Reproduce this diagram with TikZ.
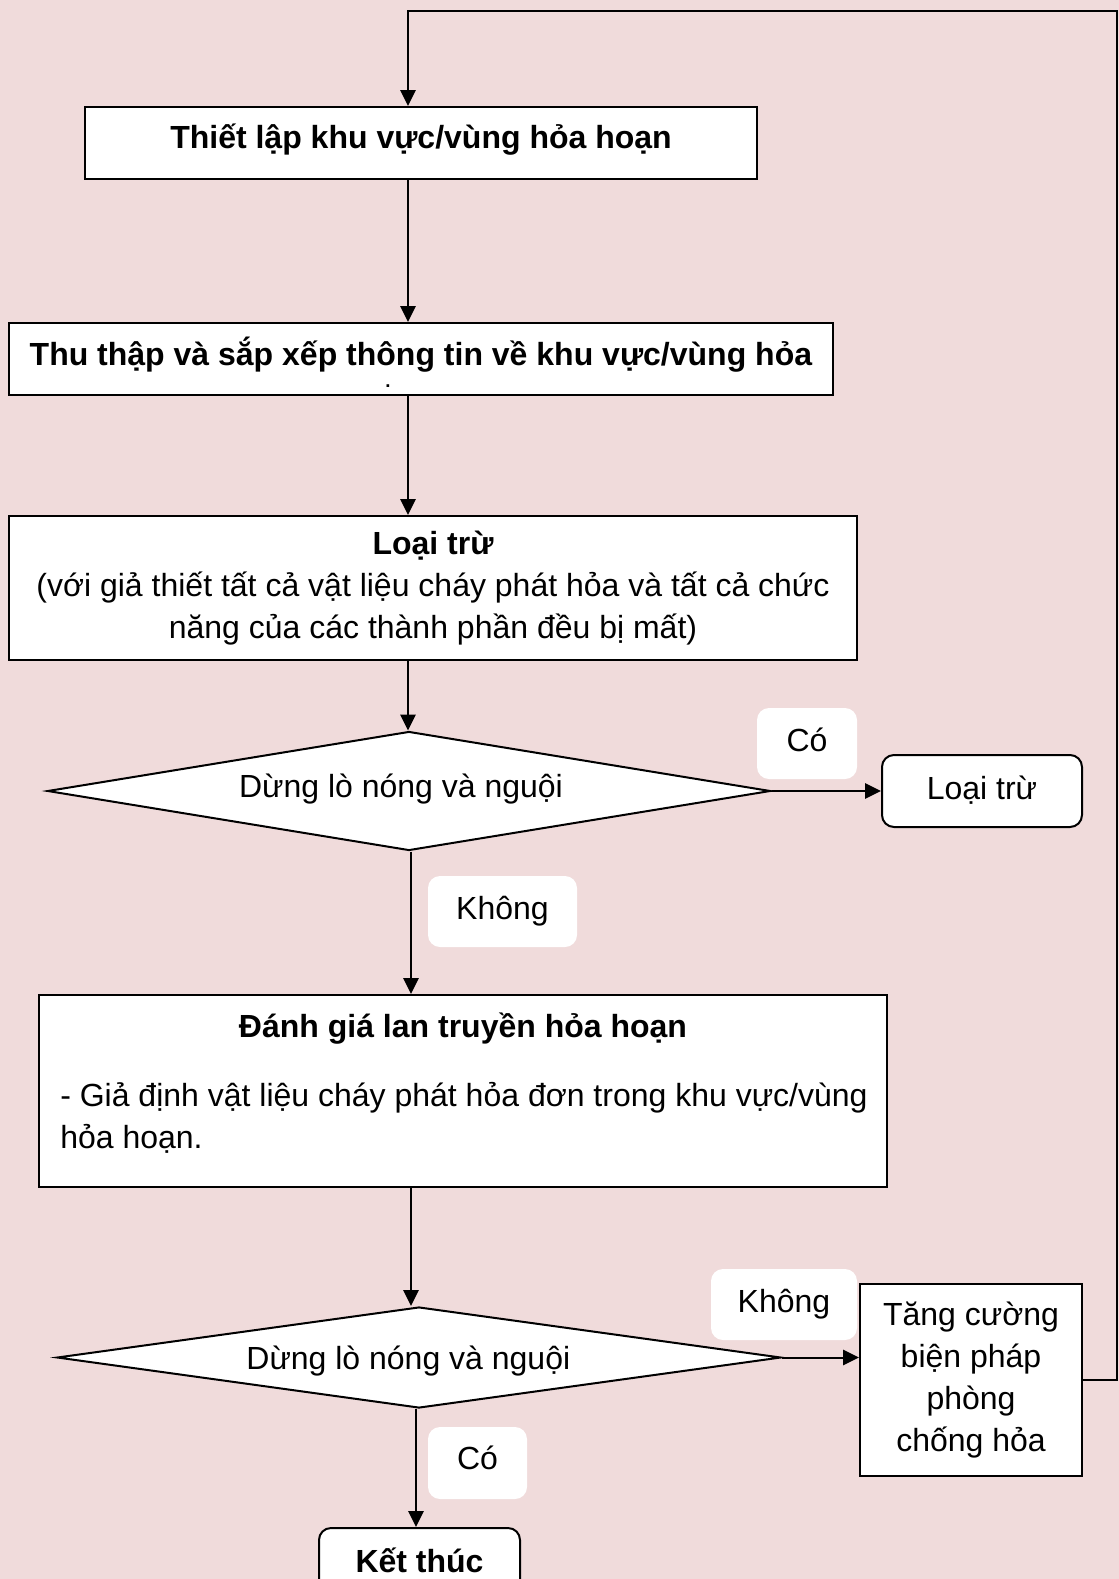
\documentclass[tikz,border=0pt]{standalone}
\usepackage{fontspec}
\setmainfont{Liberation Sans}
\usetikzlibrary{shapes.geometric,arrows.meta}
\definecolor{bgpink}{RGB}{240,219,219}
% one drawing unit = 0.75pt
\def\pxu{0.75pt}
\begin{document}
\begin{tikzpicture}[x=0.75pt,y=-0.75pt,
  every node/.style={font=\fontsize{24}{31.5}\selectfont, inner sep=0pt},
  one/.style={text height=19pt, text depth=6.5pt},
  box/.style={draw=black, line width=1.5pt, fill=white, rectangle, align=center},
  rbox/.style={box, rounded corners=9pt},
  dec/.style={draw=black, line width=1.5pt, fill=white, diamond, aspect=6, one},
  tag/.style={fill=white, rounded corners=9pt, minimum height=71*\pxu, one},
  arr/.style={line width=1.5pt, -{Triangle[length=12pt,width=11.5pt]}},
]
\fill[bgpink] (0,0) rectangle (1119,1579);
\useasboundingbox (0,0) rectangle (1119,1579);
\clip (0,0) rectangle (1119,1579);

% vertical guides for the main flow
\coordinate (spine) at (408,0);
\coordinate (spine2) at (411,0);
\coordinate (spine3) at (416,0);
\coordinate (loopR) at (1117,11);

% process boxes
\node[box, one, minimum width=672*\pxu, minimum height=72*\pxu] (b1) at (421,143)
  {\raisebox{2pt}{\textbf{Thiết lập khu vực/vùng hỏa hoạn}}};
\node[box, one, minimum width=824*\pxu, minimum height=72*\pxu] (b2) at (421,359)
  {\raisebox{1.5pt}{\textbf{Thu thập và sắp xếp thông tin về khu vực/vùng hỏa}}};
\node[font=\fontsize{14}{14}\selectfont\bfseries] (b2dot) at (388,386) {.};
\node[box, minimum width=848*\pxu, minimum height=144*\pxu] (b3) at (433,588)
  {\raisebox{-1.5pt}{\parbox{630pt}{\centering\textbf{Loại trừ}\\(với giả thiết tất cả vật liệu cháy phát hỏa và tất cả chức\\năng của các thành phần đều bị mất)}}};

% first decision
\node[dec, minimum width=723*\pxu, minimum height=119*\pxu] (d1) at (409,791)
  {\hspace*{-12pt}\raisebox{1.5pt}{Dừng lò nóng và nguội}};
\node[rbox, one, minimum width=200*\pxu, minimum height=72*\pxu] (ex) at (982,791) {Loại trừ};
\node[tag, minimum width=100*\pxu] (yes1) at (807,743.5) {Có};
\node[tag, minimum width=149*\pxu] (no1) at (502.5,911.5) {Không};

% fire propagation assessment
\node[box, minimum width=848*\pxu, minimum height=192*\pxu] (b4) at (463,1091) {};
\node[one] (b4title) at (463,1029) {\textbf{Đánh giá lan truyền hỏa hoạn}};
\node[anchor=west, align=left] (b4body) at (60,1118)
  {- Giả định vật liệu cháy phát hỏa đơn trong khu vực/vùng\\hỏa hoạn.};

% second decision
\node[dec, aspect=7.2, minimum width=724*\pxu, minimum height=101*\pxu] (d2) at (419,1357.5)
  {\hspace*{-16pt}\raisebox{-3pt}{Dừng lò nóng và nguội}};
\node[tag, minimum width=146*\pxu] (no2) at (784,1304.5) {Không};
\node[box, minimum width=222*\pxu, minimum height=192*\pxu] (b5) at (971,1380)
  {Tăng cường\\biện pháp\\phòng\\chống hỏa};
\node[tag, minimum width=99*\pxu, minimum height=72*\pxu] (yes2) at (477.5,1463) {\raisebox{1.5pt}{Có}};
\node[rbox, one, minimum width=201*\pxu, minimum height=72*\pxu] (end) at (419.5,1564)
  {\textbf{Kết thúc}};

% connectors
\draw[arr] (b1.south -| spine) -- (b2.north -| spine);
\draw[arr] (b2.south -| spine) -- (b3.north -| spine);
\draw[arr] (b3.south -| spine) -- (d1.north -| spine);
\draw[arr] (d1.east) -- (ex.west);
\draw[arr] (d1.south -| spine2) -- (b4.north -| spine2);
\draw[arr] (b4.south -| spine2) -- (d2.north -| spine2);
\draw[arr] (d2.east) -- (b5.west |- d2.east);
\draw[arr] (d2.south -| spine3) -- (end.north -| spine3);
\draw[arr] (b5.east) -| (loopR) -- (loopR -| spine) -- (b1.north -| spine);
\end{tikzpicture}
\end{document}
